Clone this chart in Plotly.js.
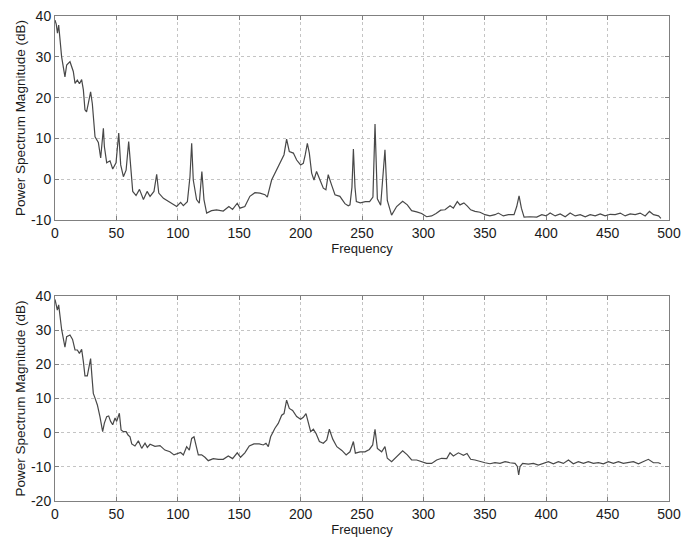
<!DOCTYPE html>
<html>
<head>
<meta charset="utf-8">
<script src="https://cdn.plot.ly/plotly-3.0.1.min.js"></script>
<style>html,body{margin:0;padding:0;background:#fff;}#chart{width:681px;height:540px;}</style>
</head>
<body>
<div id="chart"></div>
<script>
// Top spectrum (frequency, dB)
const topFreq = [0,1,2,3,5.4,8.1,9.5,12.2,14.9,16.3,18.2,19.9,21.7,23.1,24.4,25.7,27.1,29,30.4,31.2,32.6,35.3,37.2,39.4,40.2,42.1,44.8,47,49.7,51.9,53.5,55.7,57.9,60,61.7,63.3,66,68.8,72,75,77.4,80.6,82.8,84.5,88.3,92.3,96.4,99.1,102.3,104.5,107.8,109.9,111.3,112.6,115.3,117.5,119.6,121.3,123.5,127.5,131.6,137,141.6,144.6,148.4,150.6,154.6,158.7,162.8,166.9,171,172.9,176.4,180.5,184.6,186.5,188.6,190.8,194.1,196.8,200,202.2,203.8,205.5,207.1,209,210.9,213,215.8,218.5,220.6,222.5,225.2,228,232,236.1,238.8,240.2,241.8,243,244.3,245.4,248.6,252.7,256.2,258.9,260.6,262.5,265.2,268.7,270.6,274.1,278.2,283.1,286.9,290.4,294.5,298.6,302.6,306.7,310.3,314.1,317.6,321.7,324.4,327.6,329.8,333,335.8,338.5,342,346.1,350.2,354.2,358.3,361,365.1,369.2,373.8,376,377.9,379.8,382,386.9,392.3,396.4,399.9,403.2,407.3,411.4,415.5,419.5,423.6,427.7,431.8,435.8,439.9,444,448,452.1,456.2,460.3,464.3,468.4,472.5,476.5,480.6,484.1,487.4,491.5,493.4];
const topPower = [39,38,35.8,37.8,30,25.1,28,28.8,26.4,23.5,24.3,23.4,24.4,21.9,17,16.5,18.5,21.4,18.5,15.3,10.4,9,5.2,12.5,8,4,4.5,2.5,4,11.3,3.5,0.6,2.2,9.2,2.2,-3,-4,-2.5,-5,-3,-4.2,-3,1.2,-3.4,-4.7,-5.5,-6.3,-6.7,-5.7,-6.5,-5.5,0.6,8.8,-0.2,-5,-5.9,1.9,-5,-8.3,-7.7,-7.5,-7.8,-6.7,-7.4,-5.9,-7.1,-6.7,-4.2,-3.3,-3.4,-3.8,-4.4,-0.2,2.3,4.7,6,9.8,6.8,6.4,4.7,3.5,3.9,6,8.8,6.4,1.5,-0.2,1.9,-0.2,-2.2,-2.6,1.1,-1.4,-3.8,-4.2,-6,-6.5,-6.3,-2,7.4,-2,-5.5,-5.8,-5.5,-5.5,-4.4,13.5,-4.8,-6.4,7.2,-5.2,-8.8,-6.7,-5.4,-6.3,-7.7,-8,-8.4,-9.2,-9,-8.4,-7.6,-7.5,-6.5,-7.1,-5.5,-6.3,-5.8,-6.6,-7.5,-7.9,-8.1,-8.7,-9,-8.7,-8.3,-9,-8.7,-8.7,-6.7,-4.1,-7.1,-9.3,-9.2,-9.3,-8.7,-9,-8.3,-9,-8.5,-9.2,-8.3,-9,-8.7,-9.2,-8.7,-9,-8.5,-9,-8.6,-8.7,-8.3,-9,-8.5,-8.7,-8.3,-9,-7.9,-8.7,-9,-9.6];

// Bottom spectrum (frequency, dB)
const botFreq = [0,0.8,1.9,3,4.1,5.4,8.1,9.5,12.2,14.3,16.3,18.2,19.9,21.7,23.1,24.4,26.3,27.4,29,30.1,31.2,32.6,34.5,36.6,38.8,40.2,42.1,43.7,45.3,47,48.9,50.2,52.4,53.8,55.7,57.9,59.5,61.1,62.5,65.1,67.9,70.6,73.3,75.2,77.4,81.4,85.5,89.5,93.6,96.9,99.6,102.3,104.5,107.2,109.4,111.3,113.2,114.8,116.7,119.4,122.1,124.8,128.9,133,137,141.1,144.6,148.4,151.1,154.6,158.2,162,166.3,169.6,171.8,173.7,175.6,179.1,181.8,184.6,186.5,188.6,190.8,193.5,196.8,200,202.2,204.4,206.3,208.2,210.4,212.5,215.3,218.5,221.3,223.4,226.2,229.5,233.6,237.1,240.2,243,244.6,248.4,252.4,256,258.7,260.6,262.5,266,268.7,270.6,274.1,278.2,283.1,286.9,290.4,294.5,298.6,302.6,306.7,310.8,314.8,319,321.7,324.4,328.5,332.6,335.5,338.5,342,346.1,350.2,354.2,358.3,362.4,366.5,370.5,374.6,376.5,377.6,378.7,380.8,385.5,389.6,393.6,397.7,401.8,405.8,409.9,414,418.1,422.1,426.2,430.3,434.3,438.4,442.5,446.6,450.6,454.7,458.8,462.8,466.9,471,475.1,479.2,483.2,487.3,491.4,493.3];
const botPower = [39,37.9,35.9,37.4,34,30.2,25,28.1,28.6,27.3,24.2,24.2,23.2,24.4,20.8,16.6,16.6,18.3,21.7,16.4,11.5,10.1,8.1,4.7,0.3,2.8,4.7,4.9,3.3,2.3,4.3,3.3,5.7,0.8,0.3,0.3,-0.7,-1.2,-3.3,-3.9,-2.4,-4.6,-3.1,-4.3,-3.4,-4,-3.8,-5.1,-5.6,-6.5,-6.2,-5.8,-6.5,-4.1,-5.1,-1.7,-1.2,-4.1,-6.5,-6.5,-7.2,-8.2,-7.6,-7.8,-7.8,-6.8,-7.6,-5.9,-7.2,-5.9,-3.9,-3.3,-3.3,-3.6,-3.1,-4.1,-1.2,1.3,2.7,5.1,5.6,9.5,7.1,6.5,4.7,3.9,4.5,5.6,3.2,0.3,1,-0.2,-2.6,-3.1,-2.1,1,-1.9,-4.1,-5.2,-6.5,-5.6,-2.6,-6,-5.6,-5.6,-4.9,-3.6,1,-4.6,-5.6,-4.1,-7.5,-8.5,-7.1,-5.3,-6.5,-8,-8,-8.5,-9,-9,-8,-7.5,-7.6,-5.9,-6.8,-5.9,-6.6,-6.1,-7.8,-8,-8.5,-8.8,-9.1,-8.8,-9,-8.5,-8.8,-9,-9.9,-12.4,-9.9,-9,-9.2,-9,-9.5,-9,-8.5,-9.1,-8.5,-9,-8,-9.1,-8.5,-9,-8.5,-9,-8.8,-9.1,-8.5,-9,-8.5,-9,-8.8,-8.5,-9.1,-8.5,-7.8,-8.8,-8.8,-9.1];

const xTicks = [0,50,100,150,200,250,300,350,400,450,500];
const yTicksTop = [-10,0,10,20,30,40];
const yTicksBot = [-20,-10,0,10,20,30,40];

const fontFam = 'Liberation Sans, Arial, sans-serif';
const lineCol = '#484848';
const txtCol = '#1a1a1a';

function xAxis(anchor) {
  return {
    anchor: anchor, range: [0, 500], tickvals: xTicks, ticktext: xTicks.map(String),
    showline: true, mirror: 'ticks', linecolor: '#808080', linewidth: 1,
    ticks: 'inside', ticklen: 4, tickcolor: '#808080',
    showgrid: true, gridcolor: '#c4c4c4', griddash: 'dot', gridwidth: 1,
    zeroline: false, automargin: false,
    tickfont: {family: fontFam, size: 14, color: txtCol},
    title: {text: 'Frequency', font: {family: fontFam, size: 13, color: txtCol}, standoff: 1}
  };
}
function yAxis(anchor, domain, range, ticks) {
  return {
    anchor: anchor, domain: domain, range: range, tickvals: ticks, ticktext: ticks.map(String),
    showline: true, mirror: 'ticks', linecolor: '#808080', linewidth: 1,
    ticks: 'inside', ticklen: 4, tickcolor: '#808080',
    showgrid: true, gridcolor: '#c4c4c4', griddash: 'dot', gridwidth: 1,
    zeroline: false, automargin: false,
    tickfont: {family: fontFam, size: 14, color: txtCol},
    title: {text: 'Power Spectrum Magnitude (dB)', font: {family: fontFam, size: 13.5, color: txtCol}, standoff: 2}
  };
}

const data = [
  {x: topFreq, y: topPower, type: 'scatter', mode: 'lines', xaxis: 'x', yaxis: 'y',
   line: {color: lineCol, width: 1.2}, hoverinfo: 'x+y'},
  {x: botFreq, y: botPower, type: 'scatter', mode: 'lines', xaxis: 'x2', yaxis: 'y2',
   line: {color: lineCol, width: 1.2}, hoverinfo: 'x+y'}
];

const layout = {
  width: 681, height: 540,
  margin: {l: 55, r: 12, t: 16, b: 39, pad: 0},
  paper_bgcolor: '#fff', plot_bgcolor: '#fff',
  showlegend: false,
  xaxis: xAxis('y'),
  yaxis: yAxis('x', [0.5794, 1], [-10, 40], yTicksTop),
  xaxis2: xAxis('y2'),
  yaxis2: yAxis('x2', [0, 0.4227], [-20, 40], yTicksBot)
};

Plotly.newPlot('chart', data, layout, {displayModeBar: false, staticPlot: true});
</script>
</body>
</html>
